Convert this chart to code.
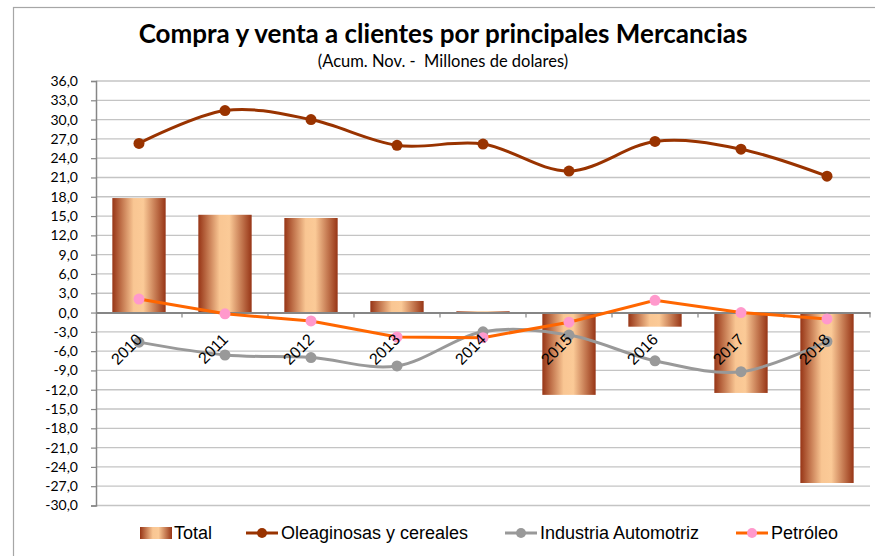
<!DOCTYPE html>
<html>
<head>
<meta charset="utf-8">
<script src="https://cdn.jsdelivr.net/npm/d3@7"></script>
<style>
  body { margin: 0; background: #fff; }
  text { white-space: pre; }
</style>
</head>
<body>
<div id="chart"></div>
<script>
// Data
const years = ["2010", "2011", "2012", "2013", "2014", "2015", "2016", "2017", "2018"];
const total = [17.8, 15.2, 14.7, 1.8, 0.2, -12.8, -2.2, -12.5, -26.5];
const oleaginosas = [26.3, 31.4, 30.0, 26.0, 26.2, 22.0, 26.6, 25.4, 21.2];
const automotriz = [-4.6, -6.6, -7.0, -8.3, -3.0, -3.5, -7.5, -9.2, -4.5];
const petroleo = [2.1, -0.2, -1.3, -3.8, -3.9, -1.5, 1.9, 0.0, -1.0];
const yTicks = d3.range(-30, 37, 3);

const dimensions = {
  width: 875,
  height: 556,
  left: 96,
  right: 870,
  top: 81,
  bottom: 505.5,
};

const svg = d3
  .select("#chart")
  .append("svg")
  .attr("width", dimensions.width)
  .attr("height", dimensions.height);

// outer frame
svg
  .append("rect")
  .attr("x", 13.5)
  .attr("y", 7.5)
  .attr("width", 1000)
  .attr("height", 1000)
  .attr("fill", "none")
  .attr("stroke", "#a6a6a6")
  .attr("stroke-width", 1.2);

// gradient for bars
const defs = svg.append("defs");
const grad = defs
  .append("linearGradient")
  .attr("id", "barGrad")
  .attr("x1", "0%")
  .attr("x2", "100%")
  .attr("y1", "0%")
  .attr("y2", "0%");
[
  [0, "#973516"],
  [0.4, "#f9c693"],
  [0.58, "#fbca97"],
  [1, "#973516"],
].forEach(([o, c]) => grad.append("stop").attr("offset", o).attr("stop-color", c));

const xScale = d3
  .scaleBand()
  .domain(years)
  .range([dimensions.left, dimensions.right])
  .paddingInner(0.38)
  .paddingOuter(0.19);

const xCenter = (i) =>
  dimensions.left + ((dimensions.right - dimensions.left) / years.length) * (i + 0.5);

const yScale = d3
  .scaleLinear()
  .domain([-30, 36])
  .range([dimensions.bottom, dimensions.top]);

// Title
svg
  .append("text")
  .attr("x", 443)
  .attr("y", 43)
  .attr("text-anchor", "middle")
  .attr("font-family", "Lato, 'Open Sans', sans-serif")
  .attr("font-weight", "bold")
  .attr("font-size", 26)
  .attr("fill", "#000")
  .text("Compra y venta a clientes por principales Mercancias");

svg
  .append("text")
  .attr("x", 443)
  .attr("y", 67)
  .attr("text-anchor", "middle")
  .attr("font-family", "Lato, 'Open Sans', sans-serif")
  .attr("font-size", 16.5)
  .attr("fill", "#000")
  .text("(Acum. Nov. -  Millones de dolares)");

// Gridlines
svg
  .append("g")
  .selectAll("line")
  .data(yTicks)
  .join("line")
  .attr("x1", dimensions.left)
  .attr("x2", dimensions.right)
  .attr("y1", (d) => yScale(d))
  .attr("y2", (d) => yScale(d))
  .attr("stroke", "#c4c4c4")
  .attr("stroke-width", 1.3);

// Y axis
const yAxis = d3
  .axisLeft(yScale)
  .tickValues(yTicks)
  .tickSize(5)
  .tickPadding(13)
  .tickFormat((d) => d3.format(".1f")(d).replace(".", ",").replace("−", "-"));

const yAxisG = svg
  .append("g")
  .attr("transform", `translate(${dimensions.left}, 0)`)
  .call(yAxis);
yAxisG.select(".domain").attr("stroke", "#868686").attr("stroke-width", 1.5);
yAxisG.selectAll(".tick line").attr("stroke", "#868686").attr("stroke-width", 1.2);
yAxisG
  .selectAll(".tick text")
  .attr("font-family", "Lato, 'Open Sans', sans-serif")
  .attr("font-size", 14)
  .attr("fill", "#000");

// Bars
svg
  .append("g")
  .selectAll("rect")
  .data(total)
  .join("rect")
  .attr("x", (d, i) => xScale(years[i]))
  .attr("width", xScale.bandwidth())
  .attr("y", (d) => yScale(Math.max(0, d)))
  .attr("height", (d) => Math.abs(yScale(d) - yScale(0)))
  .attr("fill", "url(#barGrad)");

// Zero axis with category ticks
const xAxis = d3
  .axisBottom(xScale)
  .tickSize(0)
  .tickFormat("");
const xAxisG = svg
  .append("g")
  .attr("transform", `translate(0, ${yScale(0)})`)
  .call(xAxis);
xAxisG.select(".domain").attr("stroke", "#868686").attr("stroke-width", 2);
xAxisG.selectAll(".tick").remove();
xAxisG
  .selectAll(".cat-tick")
  .data(d3.range(1, years.length + 1))
  .join("line")
  .attr("x1", (k) => xCenter(k) - (xCenter(1) - xCenter(0)) / 2)
  .attr("x2", (k) => xCenter(k) - (xCenter(1) - xCenter(0)) / 2)
  .attr("y1", 0)
  .attr("y2", 5)
  .attr("stroke", "#868686")
  .attr("stroke-width", 1.2);

// Lines
const series = [
  { name: "Oleaginosas y cereales", values: oleaginosas, stroke: "#993300", marker: "#993300", smooth: true },
  { name: "Industria Automotriz", values: automotriz, stroke: "#999999", marker: "#999999", smooth: true },
  { name: "Petróleo", values: petroleo, stroke: "#ff6600", marker: "#ff99cc", smooth: false },
];

series.forEach((s) => {
  const lineGenerator = d3
    .line()
    .x((d, i) => xCenter(i))
    .y((d) => yScale(d))
    .curve(s.smooth ? d3.curveCardinal : d3.curveLinear);

  svg
    .append("path")
    .datum(s.values)
    .attr("d", lineGenerator)
    .attr("fill", "none")
    .attr("stroke", s.stroke)
    .attr("stroke-width", 3);

  svg
    .append("g")
    .selectAll("circle")
    .data(s.values)
    .join("circle")
    .attr("cx", (d, i) => xCenter(i))
    .attr("cy", (d) => yScale(d))
    .attr("r", 5.5)
    .attr("fill", s.marker);
});

// Category labels (rotated)
svg
  .append("g")
  .selectAll("text")
  .data(years)
  .join("text")
  .attr("transform", (d, i) => `translate(${xCenter(i) + 4}, ${yScale(0) + 28}) rotate(-45)`)
  .attr("text-anchor", "end")
  .attr("font-family", "'Liberation Sans', Arial, sans-serif")
  .attr("font-size", 16)
  .attr("fill", "#000")
  .text((d) => d);

// Legend
const legend = svg.append("g").attr("transform", "translate(0, 533)");
const legendFont = "'Liberation Sans', Arial, sans-serif";

legend
  .append("rect")
  .attr("x", 140)
  .attr("y", -6)
  .attr("width", 32)
  .attr("height", 12)
  .attr("fill", "url(#barGrad)");
legend
  .append("text")
  .attr("x", 174)
  .attr("y", 0)
  .attr("dy", "0.35em")
  .attr("font-family", legendFont)
  .attr("font-size", 18)
  .text("Total");

const legendX = [246, 505, 736];
series.forEach((s, i) => {
  const x = legendX[i];
  legend
    .append("line")
    .attr("x1", x)
    .attr("x2", x + 32)
    .attr("y1", 0)
    .attr("y2", 0)
    .attr("stroke", s.stroke)
    .attr("stroke-width", 3);
  legend
    .append("circle")
    .attr("cx", x + 16)
    .attr("cy", 0)
    .attr("r", 5)
    .attr("fill", s.marker);
  legend
    .append("text")
    .attr("x", x + 35)
    .attr("y", 0)
    .attr("dy", "0.35em")
    .attr("font-family", legendFont)
    .attr("font-size", 18)
    .text(s.name);
});
</script>
</body>
</html>
